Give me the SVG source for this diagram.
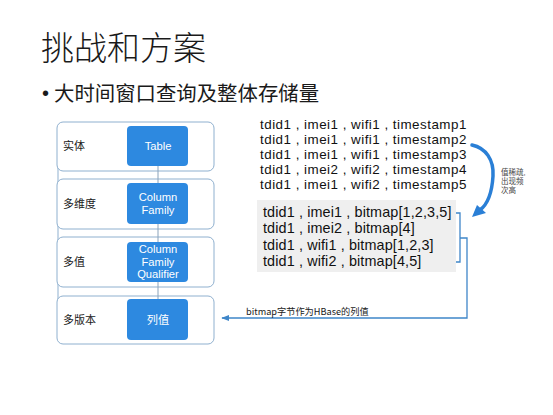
<svg xmlns="http://www.w3.org/2000/svg" width="553" height="415" viewBox="0 0 553 415">
<defs>
<style>
.cjk{font-family:"Noto Sans CJK SC","Noto Sans",sans-serif;fill:#1a1a1a}
.lat{font-family:"Liberation Sans","Noto Sans CJK SC",sans-serif;fill:#111}
.outer{fill:#fff;stroke:#8fb0cf;stroke-width:1}
.blue{fill:#2d89e0}
.wt{font-family:"Liberation Sans","Noto Sans CJK SC",sans-serif;fill:#fff;font-size:11.2px;text-anchor:middle}
.lbl{font-size:11px}
.conn{fill:none;stroke:#3f86c9;stroke-width:1.3}
</style>
<marker id="ah" viewBox="0 0 10 10" refX="9" refY="5" markerWidth="6" markerHeight="6" orient="auto">
<path d="M0,1 L10,5 L0,9 z" fill="#3f86c9"/>
</marker>
</defs>
<rect width="553" height="415" fill="#fff"/>
<text class="cjk" x="41" y="60" font-size="33" font-weight="300">挑战和方案</text>
<text x="42" y="100" font-size="20" font-family="Liberation Sans, sans-serif" fill="#1a1a1a">•</text>
<text class="cjk" x="54" y="101" font-size="20.4">大时间窗口查询及整体存储量</text>

<g id="hierarchy-spine">
<line x1="58" y1="140" x2="58" y2="330" stroke="#8fb0cf" stroke-width="1"/>
</g>
<g id="row1">
<rect class="outer" x="57" y="122" width="157" height="49" rx="6"/>
<text class="cjk lbl" x="63" y="150">实体</text>
</g>
<g id="row2">
<rect class="outer" x="57" y="179" width="157" height="50" rx="6"/>
<text class="cjk lbl" x="63" y="208">多维度</text>
</g>
<g id="row3">
<rect class="outer" x="57" y="237" width="157" height="50" rx="6"/>
<text class="cjk lbl" x="63" y="266">多值</text>
</g>
<g id="row4">
<rect class="outer" x="57" y="296" width="157" height="48" rx="6"/>
<text class="cjk lbl" x="63" y="324">多版本</text>
</g>
<g id="spine">
<line x1="158" y1="166" x2="158" y2="299" stroke="#8aa3bb" stroke-width="1"/>
</g>
<g id="table">
<rect class="blue" x="127" y="126" width="61" height="40" rx="4"/>
<text class="wt" x="158" y="150">Table</text>
</g>
<g id="column-family">
<rect class="blue" x="127" y="183" width="61" height="41" rx="4"/>
<text class="wt" x="158" y="201">Column<tspan x="158" dy="13">Family</tspan></text>
</g>
<g id="cf-qualifier">
<rect class="blue" x="127" y="242" width="61" height="40" rx="4"/>
<text class="wt" x="158" y="253">Column<tspan x="158" dy="12.6">Family</tspan><tspan x="158" dy="12.6">Qualifier</tspan></text>
</g>
<g id="column-value">
<rect class="blue" x="127" y="299" width="61" height="41" rx="4"/>
<text class="wt" x="158" y="324" font-family="Noto Sans CJK SC, sans-serif" font-size="11">列值</text>
</g>

<g id="raw-rows">
<text class="lat" x="260" y="129" font-size="13.4" letter-spacing="0.48">tdid1 , imei1 , wifi1 , timestamp1<tspan x="260" dy="15">tdid1 , imei1 , wifi1 , timestamp2</tspan><tspan x="260" dy="15">tdid1 , imei1 , wifi1 , timestamp3</tspan><tspan x="260" dy="15">tdid1 , imei2 , wifi2 , timestamp4</tspan><tspan x="260" dy="15">tdid1 , imei1 , wifi2 , timestamp5</tspan></text>
</g>
<g id="bitmap-rows">
<rect x="257" y="200" width="199" height="72" fill="#efefef"/>
<text class="lat" x="263" y="217" font-size="14.4" letter-spacing="0.12">tdid1 , imei1 , bitmap[1,2,3,5]<tspan x="263" dy="16.3">tdid1 , imei2 , bitmap[4]</tspan><tspan x="263" dy="16.3">tdid1 , wifi1 , bitmap[1,2,3]</tspan><tspan x="263" dy="16.3">tdid1 , wifi2 , bitmap[4,5]</tspan></text>
</g>
<g id="note">
<text x="501" y="175" font-size="7.5" fill="#444" font-family="Liberation Sans, Noto Sans CJK SC, sans-serif">值稀疏,<tspan x="501" dy="9">出现频</tspan><tspan x="501" dy="9">次高</tspan></text>
</g>
<g id="connectors">
<path d="M472,145 C486,148 494,160 493,176 C492,193 488,204 480,210" fill="none" stroke="#2a7fd6" stroke-width="3.5" stroke-linecap="round"/>
<path d="M472,217 L477,205 L486,213 z" fill="#2a7fd6"/>
<path class="conn" d="M456,213 L460,213 L460,262 L456,262 M460,238 L467,238 L467,318 L222,318" marker-end="url(#ah)"/>
<text class="cjk" x="246" y="315" font-size="9.2">bitmap字节作为HBase的列值</text>
</g>
</svg>
